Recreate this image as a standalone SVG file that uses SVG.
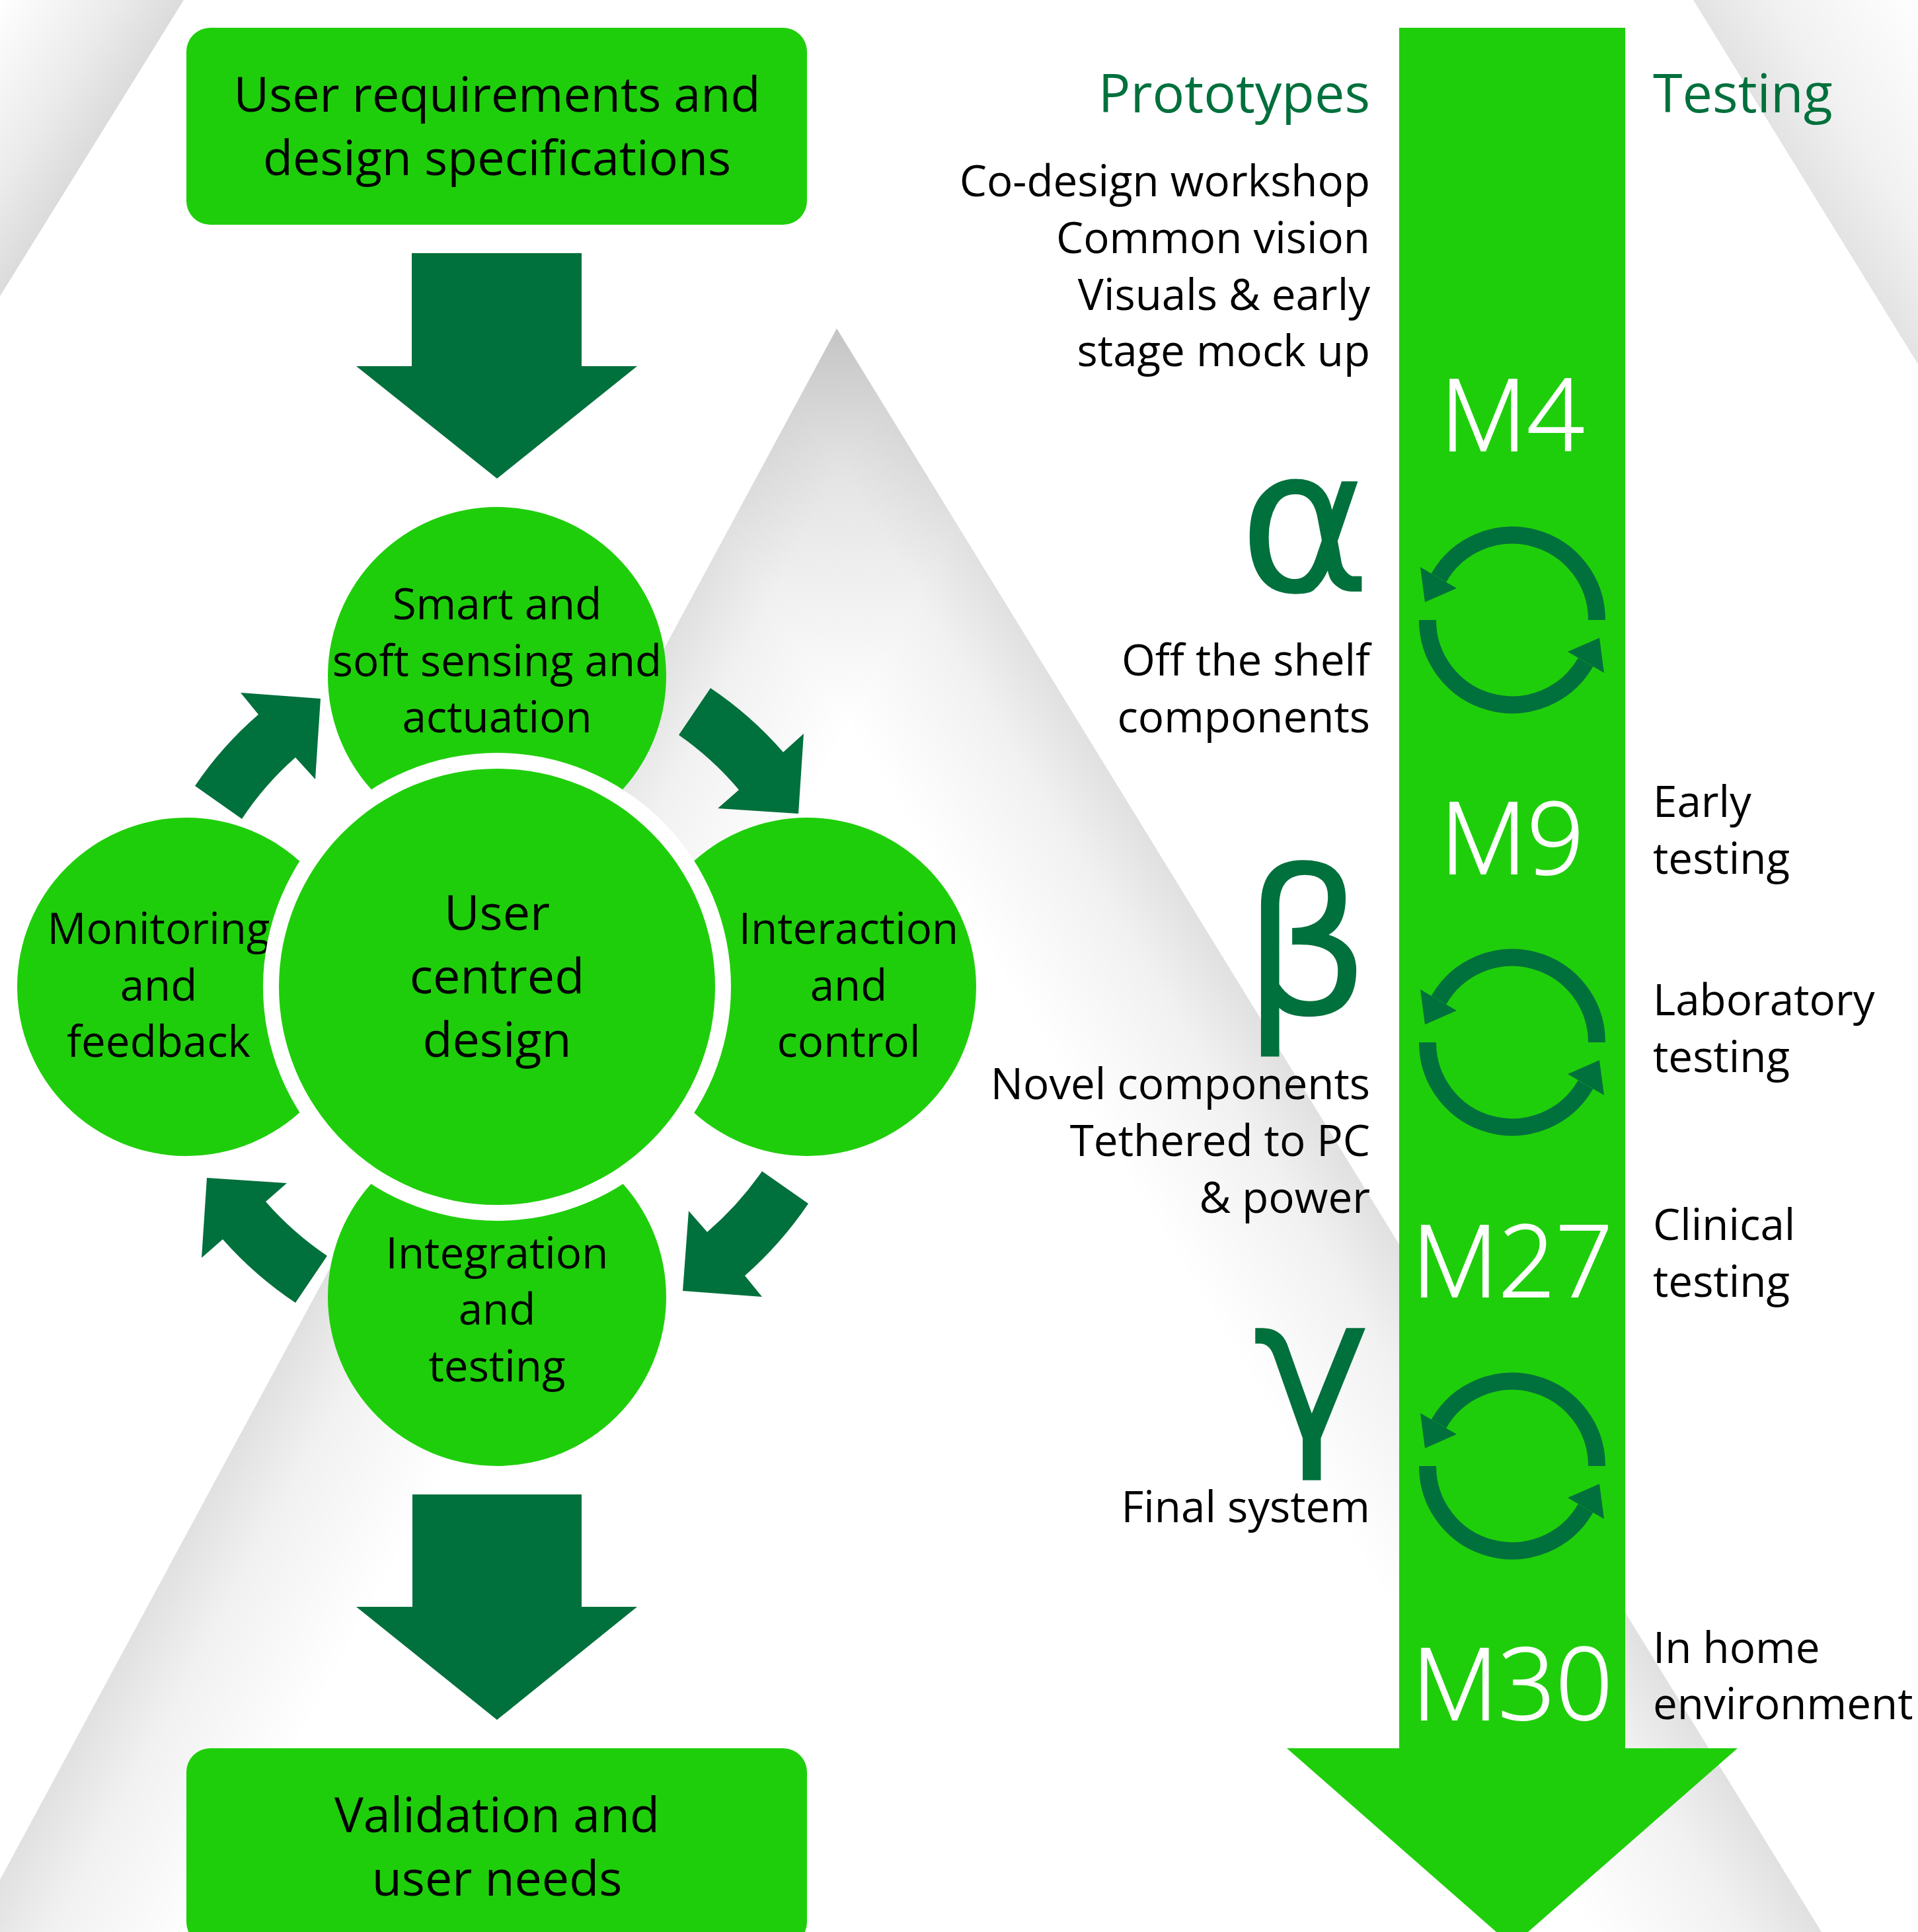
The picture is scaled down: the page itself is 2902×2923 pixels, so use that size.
<svg xmlns="http://www.w3.org/2000/svg" xmlns:xlink="http://www.w3.org/1999/xlink" width="2902" height="2923" viewBox="0 0 2902 2923">
<style>
text{font-family:"Open Sans","Noto Sans","DejaVu Sans",sans-serif;fill:#000}
.n{fill:#1fce0b}
.d{fill:#00703c}
.c{text-anchor:middle}
.e{text-anchor:end}
.s{font-size:65.5px}
.b{font-size:73.6px}
.h{font-size:81px;fill:#00703c}
.m{font-size:152px;fill:#fff;text-anchor:middle;font-weight:300;stroke:#fff;stroke-width:2px}
.g{fill:#00703c;text-anchor:end;font-family:"DejaVu Sans",sans-serif;font-size:305px}
.cy{fill:none;stroke:#00703c;stroke-width:26}
</style>
<defs>
<linearGradient id="gL" gradientUnits="userSpaceOnUse" x1="0" y1="2844" x2="264" y2="2987"><stop offset="0" stop-color="#000" stop-opacity=".12"/><stop offset=".35" stop-color="#000" stop-opacity=".055"/><stop offset="1" stop-color="#000" stop-opacity="0"/></linearGradient>
<linearGradient id="gR" gradientUnits="userSpaceOnUse" x1="2458" y1="2437" x2="2203" y2="2594"><stop offset="0" stop-color="#000" stop-opacity=".12"/><stop offset=".35" stop-color="#000" stop-opacity=".055"/><stop offset="1" stop-color="#000" stop-opacity="0"/></linearGradient>
<linearGradient id="gTR" gradientUnits="userSpaceOnUse" x1="2562" y1="0" x2="2817" y2="-157"><stop offset="0" stop-color="#000" stop-opacity=".11"/><stop offset=".35" stop-color="#000" stop-opacity=".055"/><stop offset="1" stop-color="#000" stop-opacity="0"/></linearGradient>
<linearGradient id="gTL" gradientUnits="userSpaceOnUse" x1="278" y1="0" x2="74" y2="-127"><stop offset="0" stop-color="#000" stop-opacity=".14"/><stop offset=".35" stop-color="#000" stop-opacity=".08"/><stop offset="1" stop-color="#000" stop-opacity="0"/></linearGradient>
<g id="cycle">
<path class="cy" d="M128 0A128 128 0 0 0 -111 -64"/>
<path class="d" d="M-139 -80L-132 -27L-84 -48Z"/>
<path class="cy" d="M-128 0A128 128 0 0 0 111 64"/>
<path class="d" d="M139 80L132 27L84 48Z"/>
</g>
</defs>
<rect width="2902" height="2923" fill="#fff"/>
<g id="background">
<polygon points="1266,497 0,2844 0,2923 2756,2923" fill="url(#gL)"/>
<polygon points="1266,497 0,2844 0,2923 2756,2923" fill="url(#gR)"/>
<polygon points="2562,0 2902,551 2902,0" fill="url(#gTR)"/>
<polygon points="278,0 0,448 0,0" fill="url(#gTL)"/>
</g>
<g id="connectors">
<polygon id="arrow-top" class="d" points="623,383 880,383 880,554 964,554 752,724 539,554 623,554"/>
<polygon id="arrow-bottom" class="d" points="624,2261 880,2261 880,2431 964,2431 752,2602 539,2431 624,2431"/>
<path id="arrow-tr" class="d" d="M1075 1041A558 558 0 0 1 1185 1138L1216 1110L1208 1231L1086 1223L1118 1195A471 471 0 0 0 1027 1112Z"/>
<path id="arrow-br" class="d" d="M1223 1821A575 575 0 0 1 1127 1930L1153 1962L1033 1953L1042 1832L1070 1864A489 489 0 0 0 1153 1772Z"/>
<path id="arrow-bl" class="d" d="M447 1971A565 565 0 0 1 337 1875L305 1903L313 1782L434 1790L402 1818A480 480 0 0 0 495 1900Z"/>
<path id="arrow-tl" class="d" d="M295 1189A549 549 0 0 1 391 1081L364 1048L485 1057L477 1179L447 1146A462 462 0 0 0 366 1239Z"/>
</g>
<g id="box-requirements">
<rect class="n" x="282" y="42" width="939" height="298" rx="36"/>
<text class="b c" x="752" y="169">User requirements and</text>
<text class="b c" x="752" y="265">design specifications</text>
</g>
<g id="node-smart">
<circle class="n" cx="752" cy="1023" r="256"/>
<text class="s c" x="752" y="937">Smart and</text>
<text class="s c" x="752" y="1023">soft sensing and</text>
<text class="s c" x="752" y="1108">actuation</text>
</g>
<g id="node-monitoring">
<circle class="n" cx="282" cy="1493" r="256"/>
<text class="s c" x="240" y="1428">Monitoring</text>
<text class="s c" x="240" y="1514">and</text>
<text class="s c" x="240" y="1599">feedback</text>
</g>
<g id="node-interaction">
<circle class="n" cx="1221" cy="1493" r="256"/>
<text class="s c" x="1284" y="1428">Interaction</text>
<text class="s c" x="1284" y="1514">and</text>
<text class="s c" x="1284" y="1599">control</text>
</g>
<g id="node-integration">
<circle class="n" cx="752" cy="1962" r="256"/>
<text class="s c" x="752" y="1919">Integration</text>
<text class="s c" x="752" y="2004">and</text>
<text class="s c" x="752" y="2090">testing</text>
</g>
<g id="node-centre">
<circle cx="752" cy="1493" r="354" fill="#fff"/>
<circle class="n" cx="752" cy="1493" r="330"/>
<text class="b c" x="752" y="1407">User</text>
<text class="b c" x="752" y="1503">centred</text>
<text class="b c" x="752" y="1599">design</text>
</g>
<g id="box-validation">
<rect class="n" x="282" y="2645" width="939" height="299" rx="36"/>
<text class="b c" x="752" y="2772">Validation and</text>
<text class="b c" x="752" y="2868">user needs</text>
</g>
<g id="timeline">
<polygon class="n" points="2117,42 2459,42 2459,2645 2629,2645 2288,2944 1947,2645 2117,2645"/>
<text class="m" x="2288" y="682">M4</text>
<text class="m" x="2288" y="1322">M9</text>
<text class="m" x="2288" y="1962">M27</text>
<text class="m" x="2288" y="2602">M30</text>
<use xlink:href="#cycle" href="#cycle" x="2288" y="938"/>
<use xlink:href="#cycle" href="#cycle" x="2288" y="1577"/>
<use xlink:href="#cycle" href="#cycle" x="2288" y="2218"/>
</g>
<g id="prototypes">
<text class="h e" x="2073" y="170">Prototypes</text>
<text class="s e" x="2073" y="297">Co-design workshop</text>
<text class="s e" x="2073" y="383">Common vision</text>
<text class="s e" x="2073" y="469">Visuals &amp; early</text>
<text class="s e" x="2073" y="554">stage mock up</text>
<text class="g" x="2075" y="895">α</text>
<text class="s e" x="2073" y="1022">Off the shelf</text>
<text class="s e" x="2073" y="1108">components</text>
<text class="g" x="2074" y="1535">β</text>
<text class="s e" x="2073" y="1663">Novel components</text>
<text class="s e" x="2073" y="1749">Tethered to PC</text>
<text class="s e" x="2073" y="1835">&amp; power</text>
<text class="g" x="2075" y="2176">γ</text>
<text class="s e" x="2073" y="2303">Final system</text>
</g>
<g id="testing">
<text class="h" x="2501" y="170">Testing</text>
<text class="s" x="2501" y="1236">Early</text>
<text class="s" x="2501" y="1322">testing</text>
<text class="s" x="2501" y="1536">Laboratory</text>
<text class="s" x="2501" y="1622">testing</text>
<text class="s" x="2501" y="1876">Clinical</text>
<text class="s" x="2501" y="1962">testing</text>
<text class="s" x="2501" y="2516">In home</text>
<text class="s" x="2501" y="2601">environment</text>
</g>
</svg>
